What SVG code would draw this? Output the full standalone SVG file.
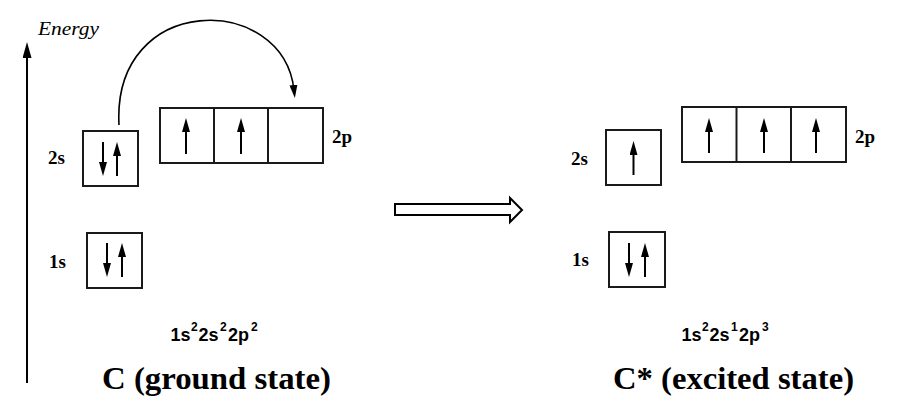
<svg xmlns="http://www.w3.org/2000/svg" width="904" height="412" viewBox="0 0 904 412">
<defs>
<style>
.box{fill:#fff;stroke:#1a1a1a;stroke-width:2}
.e{stroke:#000;stroke-width:2;fill:none;marker-end:url(#eh)}
.lbl{font-family:'Liberation Serif','DejaVu Serif',serif;font-weight:bold;font-size:19px;fill:#000}
.cfg{font-family:'Liberation Sans',Arial,sans-serif;font-weight:bold;font-size:18px;fill:#000}
.sup{font-size:12px}
.title{font-family:'Liberation Serif','DejaVu Serif',serif;font-weight:bold;font-size:32px;fill:#000}
.it{font-family:'Liberation Serif','DejaVu Serif',serif;font-style:italic;font-size:19px;fill:#000}
</style>
<marker id="eh" viewBox="0 0 14 8" refX="8" refY="4" markerWidth="14" markerHeight="8" markerUnits="userSpaceOnUse" orient="auto">
<path d="M0,0 L14,4 L0,8 z" fill="#000"/>
</marker>
<marker id="ah" viewBox="0 0 16 9" refX="8" refY="4.5" markerWidth="16" markerHeight="9" markerUnits="userSpaceOnUse" orient="auto">
<path d="M0,0 L16,4.5 L0,9 z" fill="#000"/>
</marker>
<marker id="ch" viewBox="0 0 13 8" refX="5" refY="4" markerWidth="13" markerHeight="8" markerUnits="userSpaceOnUse" orient="auto">
<path d="M0,0 L13,4 L0,8 z" fill="#000"/>
</marker>
</defs>
<rect width="904" height="412" fill="#fff"/>

<g id="energy-axis">
<line x1="27" y1="383" x2="27" y2="50" stroke="#000" stroke-width="2" marker-end="url(#ah)"/>
<text class="it" x="38" y="35" textLength="61" lengthAdjust="spacingAndGlyphs">Energy</text>
</g>

<g id="ground-2s">
<rect class="box" x="83" y="131" width="55" height="55"/>
<line class="e" x1="103" y1="142" x2="103" y2="170"/>
<line class="e" x1="117" y1="176" x2="117" y2="148"/>
<text class="lbl" x="48" y="164">2s</text>
</g>

<g id="ground-2p">
<rect class="box" x="160" y="108" width="163" height="55"/>
<line x1="214" y1="108" x2="214" y2="163" stroke="#1a1a1a" stroke-width="2"/>
<line x1="268" y1="108" x2="268" y2="163" stroke="#1a1a1a" stroke-width="2"/>
<line class="e" x1="186" y1="154" x2="186" y2="124"/>
<line class="e" x1="241" y1="154" x2="241" y2="124"/>
<text class="lbl" x="332" y="143">2p</text>
</g>

<g id="ground-1s">
<rect class="box" x="87" y="233" width="55" height="55"/>
<line class="e" x1="107" y1="243" x2="107" y2="271"/>
<line class="e" x1="122" y1="277" x2="122" y2="249"/>
<text class="lbl" x="49" y="268">1s</text>
</g>

<g id="ground-config">
<text class="cfg" x="170.5" y="341">1s</text>
<text class="cfg sup" x="191" y="331">2</text>
<text class="cfg" x="198.5" y="341">2s</text>
<text class="cfg sup" x="220" y="331">2</text>
<text class="cfg" x="228" y="341">2p</text>
<text class="cfg sup" x="251" y="331">2</text>
</g>

<g id="ground-title">
<text class="title" x="102" y="389" textLength="229" lengthAdjust="spacingAndGlyphs">C (ground state)</text>
</g>

<g id="excited-2s">
<rect class="box" x="606" y="130" width="55" height="55"/>
<line class="e" x1="633.5" y1="175" x2="633.5" y2="147"/>
<text class="lbl" x="571" y="165">2s</text>
</g>

<g id="excited-2p">
<rect class="box" x="682" y="107" width="164" height="55"/>
<line x1="736.5" y1="107" x2="736.5" y2="162" stroke="#1a1a1a" stroke-width="2"/>
<line x1="791" y1="107" x2="791" y2="162" stroke="#1a1a1a" stroke-width="2"/>
<line class="e" x1="709" y1="153" x2="709" y2="124"/>
<line class="e" x1="764" y1="153" x2="764" y2="124"/>
<line class="e" x1="816" y1="153" x2="816" y2="124"/>
<text class="lbl" x="855" y="143">2p</text>
</g>

<g id="excited-1s">
<rect class="box" x="609" y="232" width="56" height="55"/>
<line class="e" x1="629" y1="243" x2="629" y2="271"/>
<line class="e" x1="645" y1="277" x2="645" y2="249"/>
<text class="lbl" x="572" y="266">1s</text>
</g>

<g id="excited-config">
<text class="cfg" x="681.5" y="341">1s</text>
<text class="cfg sup" x="702" y="331">2</text>
<text class="cfg" x="709.5" y="341">2s</text>
<text class="cfg sup" x="731" y="331">1</text>
<text class="cfg" x="739" y="341">2p</text>
<text class="cfg sup" x="762" y="331">3</text>
</g>

<g id="excited-title">
<text class="title" x="613" y="389" textLength="241" lengthAdjust="spacingAndGlyphs">C* (excited state)</text>
</g>

<g id="connectors">
<path d="M119,125 C112,-8 283,-8 294,90" fill="none" stroke="#000" stroke-width="1.6" marker-end="url(#ch)"/>
<polygon points="395,204 510,204 510,198 522,210 510,222 510,215 395,215" fill="#fff" stroke="#000" stroke-width="2" stroke-linejoin="miter"/>
</g>
</svg>
